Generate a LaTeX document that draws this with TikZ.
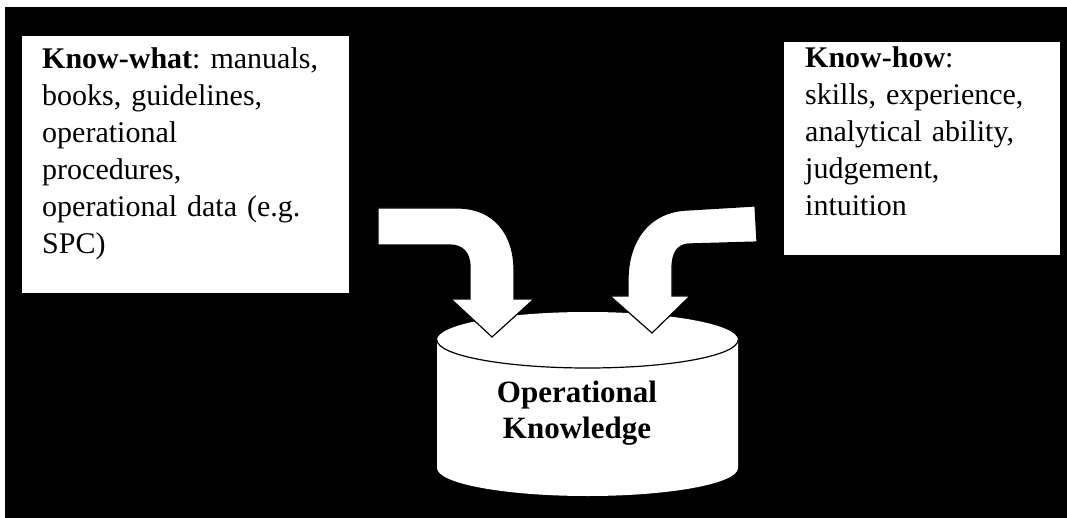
\documentclass[tikz,border=0pt]{standalone}
\usepackage{fontspec}
\setmainfont{Liberation Serif}
\usepackage{tikz}
\usetikzlibrary{positioning}
\frenchspacing

\begin{document}
\begin{tikzpicture}[
  x=1pt, y=-1pt,
  infobox/.style={fill=white, draw=black, line width=0.8pt, anchor=north west, inner sep=0pt},
  infotext/.style={anchor=base west, inner sep=0pt, align=left,
    font=\fontsize{30}{37}\selectfont},
  drum/.style={fill=white},
  drumedge/.style={draw=black, line width=1.2pt},
  flowarrow/.style={fill=white, draw=black, line width=1.2pt, line join=miter},
]
  \useasboundingbox (0,0) rectangle (1067,518);
  % Page and black backdrop
  \fill[white] (0,0) rectangle (1067,518);
  \fill[black] (5,7) rectangle (1067,518);

  % Source boxes
  \node[infobox, minimum width=328pt, minimum height=258pt] (kwbox) at (21,35) {};
  \node[infotext, text width=300pt] (kwtext) at (42,69)
    {\textbf{Know-what}: manuals,\\ books, guidelines,\\ operational\\ procedures,\\ operational data (e.g.\\ SPC)};
  \node[infobox, minimum width=277pt, minimum height=214pt] (khbox) at (783,41) {};
  \node[infotext, text width=240pt] (khtext) at (805,68)
    {\textbf{Know-how}:\\ skills, experience,\\ analytical ability,\\ judgement,\\ intuition};

  % Knowledge store (cylinder)
  \fill[drum] (437,340) -- (437,468)
    arc[start angle=180, end angle=0, x radius=150.5, y radius=28]
    -- (738,340)
    arc[start angle=0, end angle=-180, x radius=150.5, y radius=28] -- cycle;
  \draw[drumedge] (437,340) arc[start angle=180, end angle=0, x radius=150.5, y radius=28];
  \node[text width=220pt, align=center, anchor=base, inner sep=0pt,
    font=\bfseries\fontsize{31}{36}\selectfont] (opk) at (577,402)
    {Operational\\ Knowledge};

  % Bent block arrows into the store
  \filldraw[flowarrow] (378,208) -- (457,208) .. controls (495,208) and (514,235) .. (514,270)
    -- (514,299) -- (534,299) -- (492,337) -- (451,299) -- (470,299) -- (470,267)
    .. controls (470,252) and (462,245) .. (450,245) -- (378,245) -- cycle;
  \filldraw[flowarrow] (755,206) -- (688,210) .. controls (650,211) and (628,240) .. (628,280)
    -- (628,296) -- (610,296) -- (652,333) -- (690,296) -- (672,296) -- (672,268)
    .. controls (672,252) and (678,245) .. (688,244) -- (757,242) -- cycle;
\end{tikzpicture}
\end{document}
